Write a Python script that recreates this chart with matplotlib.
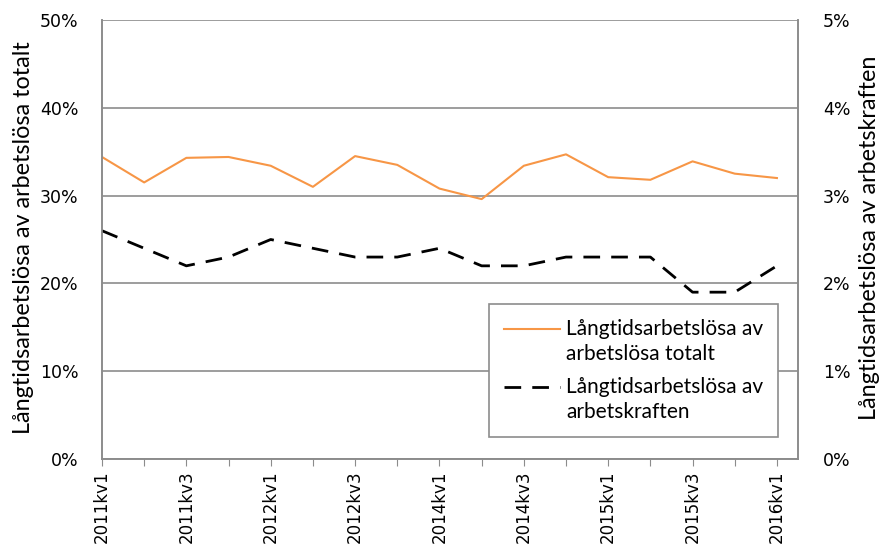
import matplotlib.pyplot as plt
from matplotlib.legend_handler import HandlerLine2D
from matplotlib.ticker import FuncFormatter, MultipleLocator

# data (percent)
quarters = ['2011kv1', '', '2011kv3', '', '2012kv1', '', '2012kv3', '', '2014kv1',
            '', '2014kv3', '', '2015kv1', '', '2015kv3', '', '2016kv1']
total = [34.4, 31.5, 34.3, 34.4, 33.4, 31.0, 34.5, 33.5, 30.8, 29.6,
         33.4, 34.7, 32.1, 31.8, 33.9, 32.5, 32.0]
workforce = [2.6, 2.4, 2.2, 2.3, 2.5, 2.4, 2.3, 2.3, 2.4, 2.2,
             2.2, 2.3, 2.3, 2.3, 1.9, 1.9, 2.2]

label_total = 'Långtidsarbetslösa av\narbetslösa totalt'
label_work = 'Långtidsarbetslösa av\narbetskraften'

txt_font = ['Lato', 'DejaVu Sans']
grey = '#8c8c8c'


class FirstLineHandler(HandlerLine2D):
    # put the legend line level with the first text line, like Excel does
    def create_artists(self, legend, orig_handle, xdescent, ydescent,
                       width, height, fontsize, trans):
        return super().create_artists(legend, orig_handle, xdescent,
                                      ydescent - 19, width, height,
                                      fontsize, trans)


fig = plt.figure(figsize=(8.86, 5.5), dpi=100)
ax = fig.add_axes([0.1151, 0.1655, 0.7856, 0.7981])
ax2 = ax.twinx()

x = list(range(len(quarters)))
l1, = ax.plot(x, total, color='#f79646', lw=1.5)
l2, = ax2.plot(x, workforce, color='black', lw=2, dashes=(6, 4))

ax.set_xlim(0, 16.5)
ax.set_ylim(0, 50)
ax2.set_ylim(0, 5)
ax.yaxis.set_major_locator(MultipleLocator(10))
ax2.yaxis.set_major_locator(MultipleLocator(1))
ax.yaxis.set_major_formatter(FuncFormatter(lambda v, p: f'{v:.0f}%'))
ax2.yaxis.set_major_formatter(FuncFormatter(lambda v, p: f'{v:.0f}%'))
ax.yaxis.grid(True, color=grey, lw=1.2)
ax.set_axisbelow(True)

ax.set_xticks(x)
ax.set_xticklabels(quarters, rotation=90, fontsize=12)
ax.tick_params(axis='x', length=5, color=grey, direction='out')
ax.tick_params(axis='y', length=0, labelsize=12.5, pad=17)
ax2.tick_params(axis='y', length=0, labelsize=12.5, pad=18)

for a in (ax, ax2):
    for s in ('left', 'right', 'bottom'):
        a.spines[s].set_color(grey)
        a.spines[s].set_linewidth(1.2)
    a.spines['top'].set_visible(False)

ax.set_ylabel('Långtidsarbetslösa av arbetslösa totalt', fontsize=16.8,
              family=txt_font)
ax.yaxis.set_label_coords(-0.098, 0.505)
ax2.set_ylabel('Långtidsarbetslösa av arbetskraften', fontsize=16.8,
               family=txt_font)
ax2.yaxis.set_label_coords(1.088, 0.503)

leg = ax.legend([l1, l2], [label_total, label_work], loc='lower left',
                bbox_to_anchor=(0.556, 0.05, 0.415, 0.308), mode='expand',
                borderaxespad=0, prop={'family': txt_font, 'size': 15},
                fancybox=False, framealpha=1, edgecolor=grey,
                handlelength=2.7, handletextpad=0.3, labelspacing=0.65,
                borderpad=0.7,
                handler_map={l1: FirstLineHandler(), l2: FirstLineHandler()})
leg.get_frame().set_linewidth(1.2)
for t in leg.get_texts():
    t.set_linespacing(1.32)

fig.savefig('out.png', dpi=100)
